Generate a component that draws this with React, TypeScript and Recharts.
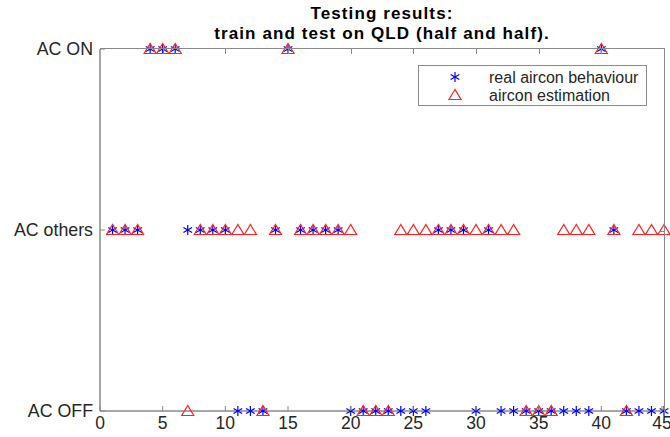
import { Scatter, ScatterChart, XAxis, YAxis } from "recharts";

// time step (1..45) -> state index: 0 = AC OFF, 1 = AC others, 2 = AC ON
const steps = Array.from({ length: 45 }, (_, i) => i + 1);

const realState = [
  1, 1, 1, 2, 2, 2, 1, 1, 1, 1,
  0, 0, 0, 1, 2, 1, 1, 1, 1, 0,
  0, 0, 0, 0, 0, 0, 1, 1, 1, 0,
  1, 0, 0, 0, 0, 0, 0, 0, 0, 2,
  1, 0, 0, 0, 0,
];

const estState = [
  1, 1, 1, 2, 2, 2, 0, 1, 1, 1,
  1, 1, 0, 1, 2, 1, 1, 1, 1, 1,
  0, 0, 0, 1, 1, 1, 1, 1, 1, 1,
  1, 1, 1, 0, 0, 0, 1, 1, 1, 2,
  1, 0, 1, 1, 1,
];

const stateLabels = ["AC OFF", "AC others", "AC ON"];
const xTicks = [0, 5, 10, 15, 20, 25, 30, 35, 40, 45];
const yTicks = [0, 1, 2];

const realData = steps.map((t, i) => ({ t, s: realState[i] }));
const estData = steps.map((t, i) => ({ t, s: estState[i] }));

const AXIS = "#8a8a8a";
const TEXT = "#262626";
const FONT = "'Liberation Sans', Arial, sans-serif";

const Star = ({ cx, cy }: any) => {
  const r = 5;
  const d = r * 0.866;
  return (
    <g stroke="#0000ff" strokeWidth={1.2}>
      <line x1={cx} y1={cy - r} x2={cx} y2={cy + r} />
      <line x1={cx - d} y1={cy - r / 2} x2={cx + d} y2={cy + r / 2} />
      <line x1={cx - d} y1={cy + r / 2} x2={cx + d} y2={cy - r / 2} />
    </g>
  );
};

const Tri = ({ cx, cy }: any) => (
  <polygon
    points={`${cx},${cy - 5.5} ${cx - 6},${cy + 4.5} ${cx + 6},${cy + 4.5}`}
    fill="none"
    stroke="#ff2020"
    strokeWidth={1.2}
  />
);

const BottomTick = ({ x, y, payload }: any) => (
  <g>
    <line x1={x} y1={y} x2={x} y2={y - 5} stroke={AXIS} />
    <text x={x} y={y + 18} textAnchor="middle" fill={TEXT} fontSize={17.5} fontFamily={FONT}>
      {payload.value}
    </text>
  </g>
);

const LeftTick = ({ x, y, payload }: any) => (
  <g>
    <line x1={x} y1={y} x2={x + 5} y2={y} stroke={AXIS} />
    <text x={x - 7} y={y + 6} textAnchor="end" fill={TEXT} fontSize={17.8} fontFamily={FONT}>
      {stateLabels[payload.value]}
    </text>
  </g>
);

// top + right edges of the axes box (recharts drops lines sitting on the domain edge)
const BoxFrame = () => (
  <div
    style={{
      position: "absolute",
      left: 100,
      top: 48,
      width: 565,
      height: 364,
      borderTop: `1.5px solid ${AXIS}`,
      borderRight: `1.5px solid ${AXIS}`,
      boxSizing: "border-box",
      pointerEvents: "none",
    }}
  >
    {xTicks.slice(1, -1).map((v) => (
      <div
        key={v}
        style={{
          position: "absolute",
          left: `${(v / 45) * 100}%`,
          top: 0,
          width: 1,
          height: 5,
          background: AXIS,
        }}
      />
    ))}
    {yTicks.slice(1, -1).map((v) => (
      <div
        key={v}
        style={{
          position: "absolute",
          right: 0,
          top: `${(1 - v / 2) * 100}%`,
          width: 5,
          height: 1,
          background: AXIS,
        }}
      />
    ))}
  </div>
);

export default function App() {
  return (
    <div style={{ position: "absolute", left: 0, top: 0, width: 670, height: 437, background: "#fff" }}>
      <ScatterChart
        width={670}
        height={437}
        margin={{ top: 49, right: 6, bottom: 0, left: 0 }}
        style={{ position: "absolute", left: 0, top: 0 }}
      >
        <XAxis
          dataKey="t"
          type="number"
          domain={[0, 45]}
          ticks={xTicks}
          height={26}
          stroke={AXIS}
          strokeWidth={1.5}
          tickSize={0}
          tickMargin={0}
          tickLine={false}
          tick={<BottomTick />}
        />
        <YAxis
          dataKey="s"
          type="number"
          domain={[0, 2]}
          ticks={yTicks}
          width={100}
          stroke={AXIS}
          strokeWidth={1.5}
          tickSize={0}
          tickMargin={0}
          tickLine={false}
          tick={<LeftTick />}
        />
        <Scatter name="real aircon behaviour" data={realData} shape={<Star />} isAnimationActive={false} />
        <Scatter name="aircon estimation" data={estData} shape={<Tri />} isAnimationActive={false} />
      </ScatterChart>
      <BoxFrame />
      <div
        style={{
          position: "absolute",
          left: 100,
          width: 564,
          top: 4,
          textAlign: "center",
          fontFamily: FONT,
          fontWeight: "bold",
          fontSize: 17,
          letterSpacing: 1.1,
          lineHeight: "20px",
          color: "#000",
        }}
      >
        <div>Testing results:</div>
        <div>train and test on QLD (half and half).</div>
      </div>
      <div
        style={{
          position: "absolute",
          left: 418,
          top: 65,
          width: 229,
          height: 41,
          border: `1px solid ${AXIS}`,
          background: "#fff",
          boxSizing: "border-box",
        }}
      >
        <svg width={227} height={39} style={{ position: "absolute", left: 0, top: 0 }}>
          <Star cx={36} cy={11} />
          <Tri cx={36} cy={29} />
          <text x={70} y={17} fill={TEXT} fontSize={16} fontFamily={FONT}>real aircon behaviour</text>
          <text x={70} y={35} fill={TEXT} fontSize={16} fontFamily={FONT}>aircon estimation</text>
        </svg>
      </div>
    </div>
  );
}
